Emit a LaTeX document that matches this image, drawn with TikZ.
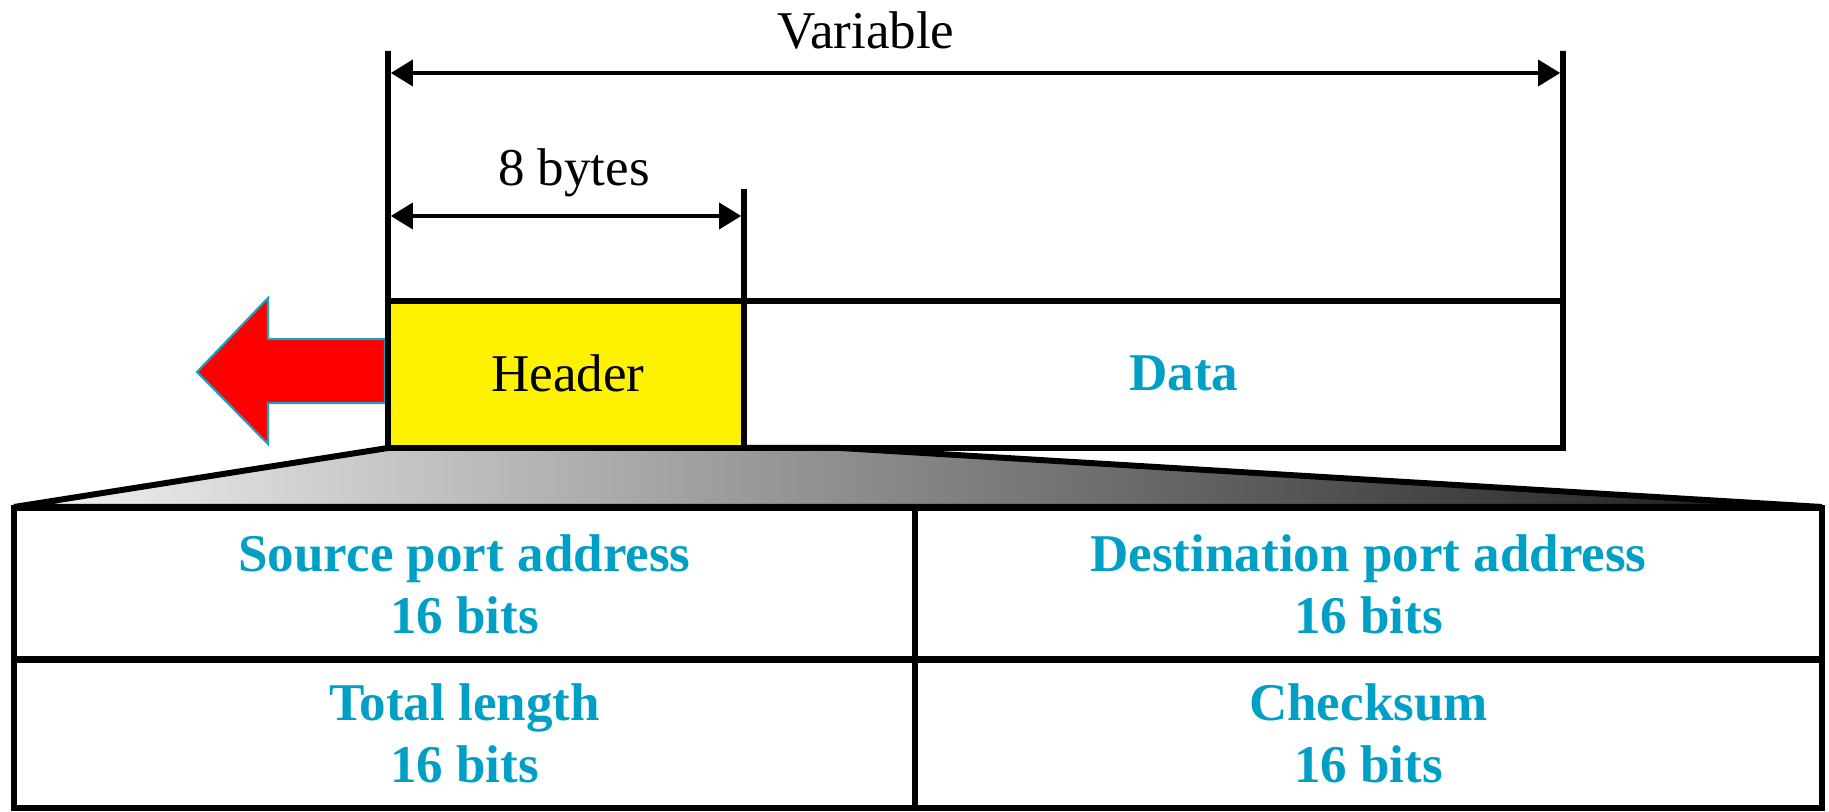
\documentclass[tikz,border=0pt]{standalone}
\usepackage{xcolor}
\usepackage{fontspec}
\setmainfont{Liberation Serif}
\usetikzlibrary{arrows.meta}
\definecolor{fieldblue}{RGB}{0,160,198}
\definecolor{arrowrim}{RGB}{27,161,196}

\begin{document}
\begin{tikzpicture}[line width=1.7pt,
    box/.style={draw, line width=1.7pt, minimum height=1.47cm, inner sep=0pt, outer sep=0pt},
    cell/.style={draw, line width=1.7pt, inner sep=0pt, align=center, text=fieldblue, font=\fontsize{15.1}{17.6}\selectfont\bfseries},
    dim/.style={line width=1pt, shorten <=0.8pt, shorten >=0.8pt, {Triangle[length=0.22cm,width=0.26cm]}-{Triangle[length=0.22cm,width=0.26cm]}},
    lbl/.style={font=\fontsize{15.1}{17.6}\selectfont}]
    \useasboundingbox (0,0) rectangle (18.29,8.12);
    \shadedraw[left color=gray!8, right color=black!92, draw=black, line width=1.7pt] (3.88,3.64) -- (8.40,3.64) -- (18.22,3.05) -- (0.14,3.05) -- cycle;
    \node[cell, minimum width=9.01cm, minimum height=1.52cm] (src) at (4.645,2.28) {Source port address\\16 bits};
    \node[cell, minimum width=9.07cm, minimum height=1.52cm] (dst) at (13.685,2.28) {Destination port address\\16 bits};
    \node[cell, minimum width=9.01cm, minimum height=1.49cm] (len) at (4.645,0.785) {Total length\\16 bits};
    \node[cell, minimum width=9.07cm, minimum height=1.49cm] (sum) at (13.685,0.785) {Checksum\\16 bits};
    \filldraw[fill=red, draw=arrowrim, line width=0.6pt] (3.85,4.73) -- (2.68,4.73) -- (2.68,5.14) -- (1.97,4.40) -- (2.68,3.68) -- (2.68,4.09) -- (3.85,4.09) -- cycle;
    \node[box, fill=yellow, minimum width=3.56cm] (hdr) at (5.66,4.375) {};
    \node[box, minimum width=8.19cm] (data) at (11.535,4.375) {};
    \node[lbl] (hdrtxt) at (5.68,4.39) {Header};
    \node[lbl, font=\fontsize{15.1}{17.6}\selectfont\bfseries, text=fieldblue] (datatxt) at (11.84,4.39) {Data};
    \coordinate (lt) at (3.88,7.61);
    \coordinate (rt) at (15.63,7.61);
    \coordinate (mt) at (7.44,6.23);
    \draw (lt) -- (hdr.north west);
    \draw (rt) -- (data.north east);
    \draw (mt) -- (hdr.north east);
    \coordinate (varL) at (3.88,7.39);
    \coordinate (varR) at (15.63,7.39);
    \coordinate (hdrL) at (3.88,5.96);
    \coordinate (hdrR) at (7.44,5.96);
    \draw[dim] (varL) -- (varR);
    \draw[dim] (hdrL) -- (hdrR);
    \node[lbl] (varlbl) at (8.66,7.81) {Variable};
    \node[lbl] (bytelbl) at (5.74,6.39) {8 bytes};
\end{tikzpicture}
\end{document}
